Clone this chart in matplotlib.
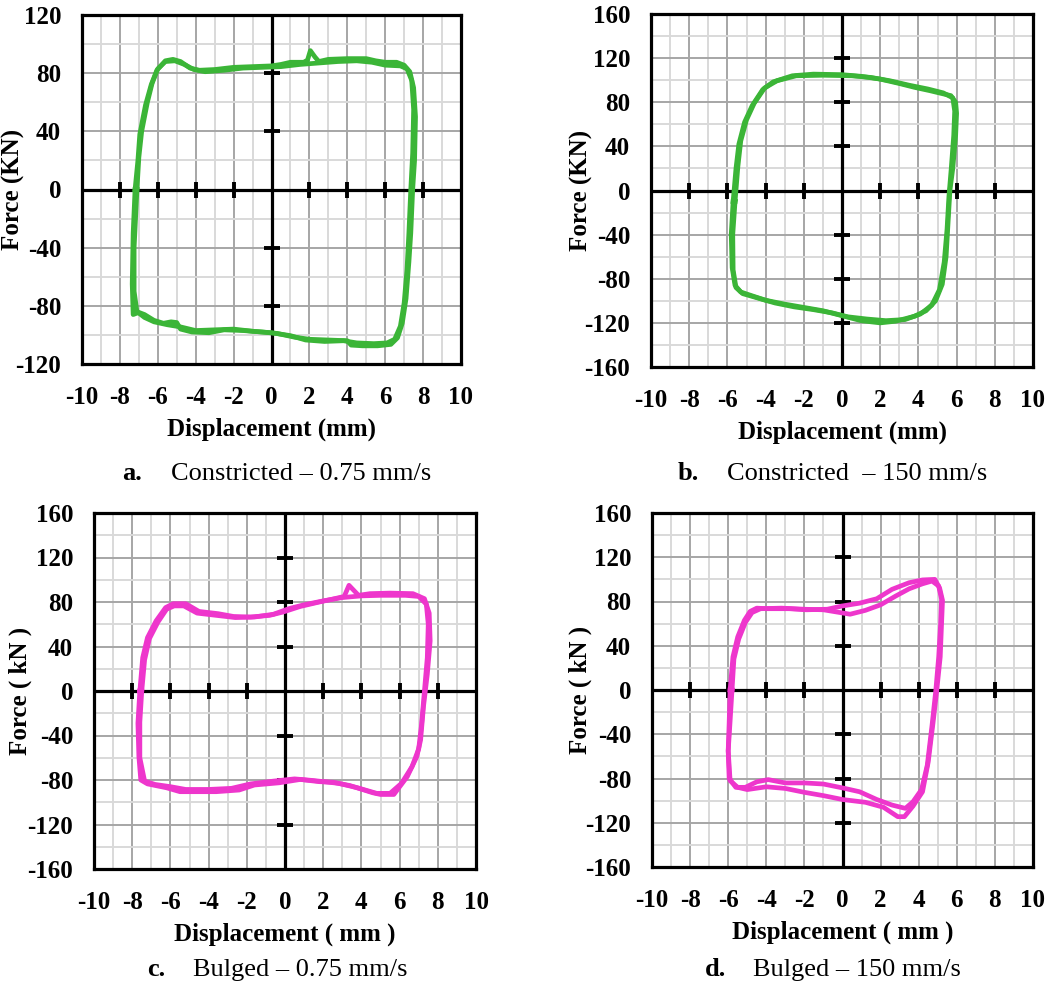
import matplotlib.pyplot as plt
import numpy as np

plt.rcParams['font.family'] = ['Liberation Serif', 'DejaVu Serif']
plt.rcParams['axes.unicode_minus'] = False

# hysteresis loops: (displacement mm, force kN), two cycles each
a_cycle1 = [(-7.2, 0), (-7.05, 20), (-6.95, 38), (-6.65, 58), (-6.35, 72), (-6.05, 82), (-5.6, 88.5),
            (-5.2, 89.5), (-4.8, 88), (-4.3, 83.5), (-3.8, 82), (-3.0, 82.5), (-2.0, 84), (-1.0, 84.5),
            (0.0, 85), (0.5, 86), (1.0, 87.5), (1.7, 87.5), (1.9, 89), (2.05, 95.5), (2.3, 91), (2.5, 88),
            (3.0, 89.5), (4.0, 90), (5.0, 90), (5.5, 88.5), (6.0, 87.5), (6.6, 87.5), (7.0, 85.5), (7.3, 81),
            (7.5, 70), (7.6, 50), (7.55, 20), (7.45, 0), (7.35, -30), (7.25, -50), (7.1, -75), (6.9, -92),
            (6.65, -102), (6.3, -106.5), (5.6, -107.5), (4.8, -107.5), (4.2, -107), (4.0, -104), (3.0, -103.5),
            (2.0, -103), (1.2, -101.5), (0.3, -99), (-0.5, -98), (-1.5, -97), (-2.5, -96.5), (-3.3, -98.5),
            (-4.2, -98), (-4.8, -96), (-5.0, -91.5), (-5.3, -91), (-5.7, -92), (-6.2, -90), (-6.7, -86),
            (-7.0, -84.5), (-7.3, -86), (-7.35, -65), (-7.3, -30), (-7.2, 0)]
a_cycle2 = [(-7.1, 0), (-7.0, 22), (-6.85, 40), (-6.55, 60), (-6.3, 73), (-6.0, 83), (-5.6, 88), (-5.1, 88.5),
            (-4.6, 86), (-4.1, 82.5), (-3.5, 81), (-2.5, 82), (-1.5, 83.5), (-0.5, 84), (0.5, 84.5), (1.5, 86),
            (2.5, 87), (3.5, 88), (4.5, 88.5), (5.3, 87.5), (6.0, 85.5), (6.8, 85), (7.15, 83), (7.4, 75),
            (7.5, 55), (7.45, 25), (7.35, 0), (7.25, -30), (7.15, -55), (7.0, -78), (6.8, -94), (6.5, -103),
            (6.1, -105.5), (5.4, -106), (4.5, -105.5), (3.8, -104), (2.8, -104.5), (1.8, -103.5), (1.0, -100.5),
            (0.0, -98.5), (-1.0, -97.5), (-2.0, -96), (-3.0, -96.5), (-4.0, -97), (-4.8, -94.5), (-5.5, -93),
            (-6.2, -91), (-6.7, -88), (-7.1, -84), (-7.25, -70), (-7.25, -40), (-7.1, 0)]

b_cycle1 = [(-5.7, -10), (-5.55, 20), (-5.4, 42), (-5.1, 62), (-4.7, 77), (-4.15, 91.5), (-3.6, 98.5),
            (-2.6, 104), (-1.5, 105.5), (0.0, 105), (1.0, 103.5), (2.0, 101), (3.0, 97), (3.8, 93.5),
            (4.6, 90.5), (5.2, 88), (5.7, 86), (5.95, 80), (6.0, 70), (5.95, 50), (5.8, 20), (5.65, 0),
            (5.55, -30), (5.45, -60), (5.25, -85), (4.9, -100), (4.4, -109), (3.8, -114), (2.8, -118.5),
            (2.0, -120), (1.0, -118), (0.0, -113.5), (-1.0, -109), (-2.0, -106), (-3.0, -103), (-4.0, -99.5),
            (-4.7, -95.5), (-5.3, -92), (-5.6, -86), (-5.75, -70), (-5.8, -40), (-5.7, -10)]
b_cycle2 = [(-5.6, -10), (-5.45, 22), (-5.3, 45), (-5.0, 64), (-4.6, 79), (-4.05, 93), (-3.4, 99.5),
            (-2.4, 104), (-1.0, 104.5), (0.5, 104), (1.5, 102.5), (2.5, 99.5), (3.5, 95.5), (4.5, 92),
            (5.3, 88.5), (5.8, 84), (5.9, 72), (5.85, 50), (5.72, 20), (5.6, -5), (5.5, -35), (5.35, -65),
            (5.1, -90), (4.7, -104), (4.1, -112), (3.3, -117), (2.3, -118), (1.3, -116.5), (0.3, -114.5),
            (-0.5, -111), (-1.5, -108), (-2.5, -105.5), (-3.5, -102), (-4.5, -97), (-5.2, -93.5),
            (-5.55, -88), (-5.7, -72), (-5.72, -40), (-5.6, -10)]

c_cycle1 = [(-7.6, 0), (-7.45, 30), (-7.2, 48), (-6.75, 63), (-6.25, 75), (-5.85, 78.5), (-5.2, 78.5),
            (-4.5, 71.5), (-3.5, 69.5), (-2.7, 67), (-1.8, 66.5), (-0.8, 68), (-0.1, 71), (0.8, 76), (1.8, 80),
            (2.6, 83), (3.1, 85), (3.35, 95), (3.85, 86), (4.45, 87.5), (5.5, 88), (6.7, 87.5), (7.3, 83),
            (7.55, 70), (7.6, 45), (7.45, 15), (7.25, -14), (7.1, -44), (6.9, -59), (6.4, -77), (5.7, -93),
            (5.0, -93), (4.6, -91.5), (3.4, -85), (2.5, -82), (1.8, -81.5), (0.8, -79.5), (-0.3, -82.5),
            (-1.6, -84.5), (-2.4, -89), (-3.6, -90.5), (-5.5, -90.5), (-6.2, -87), (-7.2, -83.5), (-7.55, -80),
            (-7.65, -59), (-7.7, -29), (-7.6, 0)]
c_cycle2 = [(-7.5, 0), (-7.35, 28), (-7.1, 47), (-6.65, 62), (-6.2, 73.5), (-5.8, 76.5), (-5.3, 76.5),
            (-4.6, 70), (-3.6, 68), (-2.6, 66), (-1.6, 66.5), (-0.6, 69), (0.2, 74), (1.0, 77.5), (2.0, 81),
            (3.0, 84), (4.0, 85.5), (5.0, 86), (6.3, 86), (7.0, 85), (7.4, 78), (7.5, 60), (7.45, 30), (7.3, 0),
            (7.15, -30), (7.0, -52), (6.65, -68), (6.1, -83), (5.5, -92), (4.8, -92), (3.8, -87), (2.8, -83),
            (1.5, -80.5), (0.5, -79), (-0.6, -81), (-1.8, -83.5), (-2.8, -87.5), (-4.0, -88.5), (-5.2, -88.5),
            (-6.0, -86), (-6.8, -84), (-7.35, -81), (-7.6, -60), (-7.6, -28), (-7.5, 0)]

d_cycle1 = [(-5.9, 0), (-5.75, 30), (-5.5, 48), (-5.15, 63), (-4.85, 71), (-4.5, 74), (-4.0, 73.5),
            (-2.8, 73.5), (-1.9, 72.5), (-0.8, 73), (0.0, 76), (0.9, 78.5), (1.8, 82.5), (2.6, 91), (3.5, 97),
            (4.2, 99.5), (4.85, 100), (5.1, 92), (5.25, 81), (5.2, 60), (5.13, 30), (4.95, 0), (4.75, -30),
            (4.5, -65), (4.2, -92), (3.7, -105), (3.25, -114.5), (2.9, -114.5), (2.15, -106), (1.2, -101.5),
            (0.0, -99), (-1.0, -95.5), (-2.0, -92.5), (-3.0, -89), (-4.0, -87.5), (-4.6, -89), (-5.0, -90),
            (-5.5, -88), (-5.9, -82), (-6.0, -55), (-5.95, -30), (-5.9, 0)]
d_cycle2 = [(-5.8, 0), (-5.7, 28), (-5.45, 46), (-5.1, 61), (-4.75, 70), (-4.3, 73.5), (-3.2, 74), (-2.0, 73),
            (-1.0, 72.5), (-0.3, 70.5), (0.4, 68.5), (1.2, 72), (2.0, 77), (2.8, 85), (3.5, 91.5), (4.2, 96),
            (4.7, 98.5), (5.05, 94), (5.2, 82), (5.15, 60), (5.05, 30), (4.9, 0), (4.7, -32), (4.45, -68),
            (4.15, -90), (3.7, -101), (3.3, -107), (2.6, -104), (1.8, -99), (0.9, -92), (0.0, -88.5),
            (-1.0, -85), (-2.0, -84), (-3.0, -84), (-3.9, -81), (-4.5, -83), (-5.1, -88), (-5.6, -88),
            (-5.95, -80), (-6.0, -55), (-5.9, -28), (-5.8, 0)]

x_ticks = [-10, -8, -6, -4, -2, 0, 2, 4, 6, 8, 10]
y_ticks_a = [-120, -80, -40, 0, 40, 80, 120]
y_ticks_b = [-160, -120, -80, -40, 0, 40, 80, 120, 160]

green = '#3BB537'
pink = '#EE36CC'

W, H = 1046, 986
fig = plt.figure(figsize=(W / 100, H / 100), dpi=100)


def make_ax(l, r, t, b):
    return fig.add_axes([l / W, 1 - b / H, (r - l) / W, (b - t) / H])


panels = [
    (make_ax(82, 461, 15, 364), [a_cycle1, a_cycle2], green, y_ticks_a, 'Force (KN)', 'Displacement (mm)', -0.150),
    (make_ax(651, 1033, 14, 367), [b_cycle1, b_cycle2], green, y_ticks_b, 'Force (KN)', 'Displacement (mm)', -0.152),
    (make_ax(94, 476, 513, 869), [c_cycle1, c_cycle2], pink, y_ticks_b, 'Force ( kN )', 'Displacement ( mm )', -0.162),
    (make_ax(652, 1033, 513, 867), [d_cycle1, d_cycle2], pink, y_ticks_b, 'Force ( kN )', 'Displacement ( mm )', -0.157),
]

fs = 18
for ax, cycles, color, yt, ylab, xlab, ylab_x in panels:
    ax.set_xlim(-10, 10)
    ax.set_ylim(yt[0], yt[-1])
    ax.set_xticks(x_ticks)
    ax.set_yticks(yt)
    ax.set_xticks(np.arange(-10, 11, 1), minor=True)
    ax.set_yticks(np.arange(yt[0], yt[-1] + 1, 20), minor=True)
    ax.grid(which='minor', color='#D9D9D9', lw=1.4, zorder=0)
    ax.grid(which='major', color='#A6A6A6', lw=1.4, zorder=0)
    ax.tick_params(which='both', length=0)
    ax.tick_params(axis='x', pad=16, labelsize=fs)
    ax.tick_params(axis='y', pad=15, labelsize=fs)
    for lbl in ax.get_xticklabels() + ax.get_yticklabels():
        lbl.set_fontweight('bold')
    for s in ax.spines.values():
        s.set_linewidth(2.3)
    ax.set_axisbelow(True)

    # central axes with cross ticks
    ax.axhline(0, color='black', lw=2.3, zorder=2)
    ax.axvline(0, color='black', lw=2.3, zorder=2)
    xm = [v for v in x_ticks if v not in (0, -10, 10)]
    ym = [v for v in yt if v != 0 and abs(v) < yt[-1]]
    ax.plot(xm, np.zeros(len(xm)), ls='none', marker='|', ms=12, mew=2.8, color='black', zorder=2)
    ax.plot(np.zeros(len(ym)), ym, ls='none', marker='_', ms=12, mew=2.8, color='black', zorder=2)

    for cyc in cycles:
        xs, ys = np.array(cyc).T
        ax.plot(xs, ys, color=color, lw=3.4, solid_joinstyle='round', zorder=3)

    ax.set_ylabel(ylab, fontsize=fs, fontweight='bold')
    ax.yaxis.set_label_coords(ylab_x, 0.5)
    ax.set_xlabel(xlab, fontsize=fs, fontweight='bold', labelpad=6)

captions = [
    (122, 474, 'a.', 171, 'Constricted – 0.75 mm/s'),
    (678, 474, 'b.', 727, 'Constricted  – 150 mm/s'),
    (147, 970, 'c.', 193, 'Bulged – 0.75 mm/s'),
    (705, 970, 'd.', 753, 'Bulged – 150 mm/s'),
]
for lx, cy, letter, tx, text in captions:
    fig.text(lx / W, 1 - cy / H, letter, fontsize=19, fontweight='bold', va='center', ha='left')
    fig.text(tx / W, 1 - cy / H, text, fontsize=19, va='center', ha='left')

fig.savefig('out.png', dpi=100)
